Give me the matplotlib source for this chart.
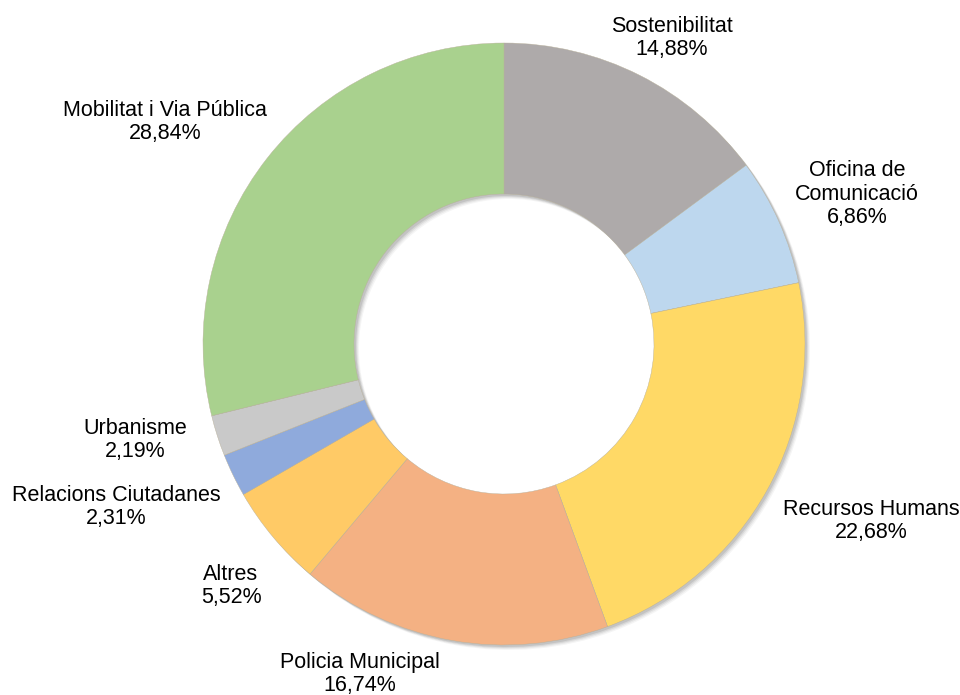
import matplotlib
matplotlib.use("Agg")
import matplotlib.pyplot as plt

categories = ["Sostenibilitat", "Oficina de\nComunicació", "Recursos Humans",
              "Policia Municipal", "Altres", "Relacions Ciutadanes",
              "Urbanisme", "Mobilitat i Via Pública"]
values = [14.88, 6.86, 22.68, 16.74, 5.52, 2.31, 2.19, 28.84]
colors = ["#AEAAAA", "#BDD7EE", "#FFD966", "#F4B183", "#FFCA66",
          "#8FAADC", "#C9C9C9", "#A9D18E"]

# label centre positions in pixel coordinates (x, y from top)
label_pos = [(672, 38), (857, 194), (871, 521), (360, 674),
             (231, 586), (116, 507), (135, 440), (165, 122)]

W, H = 960, 695
fig = plt.figure(figsize=(W / 100, H / 100), dpi=100)
ax = fig.add_axes([0, 0, 1, 1])
ax.set_xlim(0, W)
ax.set_ylim(0, H)
ax.set_aspect("equal")
ax.axis("off")

cx, cy = 504, H - 344
R, r_in = 301, 150

# soft shadow (offset down-right)
for dx, dy, a in [(5, -5, 0.04), (4, -4, 0.05), (3, -3, 0.07), (2, -2, 0.09)]:
    ax.pie(values, radius=R, center=(cx + dx, cy + dy), startangle=90,
           counterclock=False, colors=["#000000"] * len(values),
           wedgeprops=dict(width=R - r_in, alpha=a, linewidth=0))

ax.pie(values, radius=R, center=(cx, cy), startangle=90, counterclock=False,
       colors=colors, wedgeprops=dict(width=R - r_in, linewidth=0.3,
                                      edgecolor="#b8b09a"))
ax.set_xlim(0, W)
ax.set_ylim(0, H)

for cat, v, (px, py) in zip(categories, values, label_pos):
    txt = f"{cat}\n{v:.2f}%".replace(".", ",")
    ax.text(px, H - py, txt, ha="center", va="center", fontsize=15.5,
            family="Liberation Sans", color="#000000", linespacing=1.15)

fig.savefig("out.png", dpi=100)
